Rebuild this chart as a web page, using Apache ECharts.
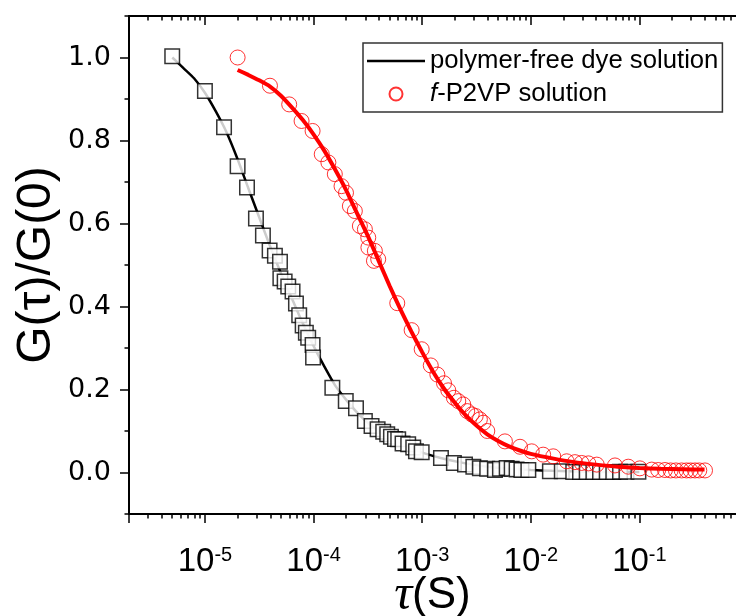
<!DOCTYPE html>
<html><head><meta charset="utf-8">
<script src="https://cdn.jsdelivr.net/npm/echarts@6/dist/echarts.min.js"></script>
<style>html,body{margin:0;padding:0;background:#fff}#c{width:736px;height:616px}</style>
</head><body><div id="c"></div>
<script>
// ---- data (tau in s, normalized correlation) ----
const dyeTau = [5.0e-6,1.0e-5,1.5e-5,2.0e-5,2.44e-5,2.95e-5,3.42e-5,3.94e-5,4.41e-5,4.91e-5,4.95e-5,5.42e-5,5.85e-5,6.41e-5,6.89e-5,7.38e-5,7.94e-5,8.5e-5,8.93e-5,9.8e-5,9.9e-5,1.49e-4,1.98e-4,2.46e-4,2.97e-4,3.42e-4,3.89e-4,4.38e-4,4.77e-4,5.16e-4,5.62e-4,6.02e-4,6.6e-4,7.44e-4,8.28e-4,8.77e-4,9.9e-4,1.49e-3,1.96e-3,2.48e-3,2.96e-3,3.4e-3,3.97e-3,4.68e-3,5.2e-3,6.0e-3,6.67e-3,7.4e-3,8.2e-3,9.5e-3,1.5e-2,1.93e-2,2.46e-2,2.84e-2,3.27e-2,3.77e-2,4.34e-2,5.0e-2,5.75e-2,6.63e-2,7.6e-2,9.8e-2];
const dyeG = [1.003,0.919,0.832,0.738,0.687,0.612,0.571,0.535,0.522,0.508,0.468,0.460,0.448,0.436,0.407,0.379,0.354,0.337,0.325,0.307,0.277,0.204,0.172,0.155,0.124,0.112,0.104,0.098,0.092,0.086,0.081,0.080,0.070,0.068,0.060,0.051,0.049,0.035,0.023,0.019,0.014,0.010,0.009,0.006,0.009,0.011,0.009,0.007,0.006,0.006,0.003,0.003,0.001,0.001,0.001,0.001,0.001,0.001,0.001,0.002,0.002,0.002];
const dyeFitTau = [5.01e-6,6.31e-6,7.94e-6,1.0e-5,1.26e-5,1.58e-5,2.0e-5,2.51e-5,3.16e-5,3.98e-5,5.01e-5,6.31e-5,7.94e-5,1.0e-4,1.26e-4,1.58e-4,2.0e-4,2.51e-4,3.16e-4,3.98e-4,5.01e-4,6.31e-4,7.94e-4,1.0e-3,1.58e-3,2.51e-3,3.98e-3,6.31e-3,1.0e-2,1.58e-2,3.16e-2,0.1];
const dyeFitG = [1.0,0.975,0.95,0.915,0.87,0.82,0.755,0.685,0.615,0.545,0.48,0.42,0.36,0.305,0.255,0.21,0.175,0.145,0.12,0.1,0.083,0.069,0.058,0.048,0.033,0.022,0.014,0.009,0.006,0.004,0.002,0.001];
const p2vpTau = [2.0e-5,3.97e-5,5.97e-5,7.76e-5,9.8e-5,1.19e-4,1.37e-4,1.57e-4,1.81e-4,1.99e-4,2.16e-4,2.4e-4,2.67e-4,2.97e-4,3.19e-4,3.2e-4,3.67e-4,3.6e-4,3.94e-4,5.9e-4,8.0e-4,9.9e-4,1.2e-3,1.38e-3,1.59e-3,1.74e-3,1.96e-3,2.15e-3,2.39e-3,2.6e-3,2.86e-3,3.11e-3,3.4e-3,3.66e-3,3.98e-3,5.78e-3,7.96e-3,1.02e-2,1.3e-2,1.61e-2,2.14e-2,2.55e-2,2.94e-2,3.39e-2,4.05e-2,5.96e-2,7.9e-2,0.101,0.130,0.149,0.172,0.194,0.217,0.245,0.272,0.296,0.325,0.356,0.402];
const p2vpG = [1.0,0.932,0.887,0.847,0.823,0.767,0.747,0.719,0.690,0.674,0.642,0.630,0.594,0.586,0.566,0.542,0.534,0.510,0.514,0.408,0.343,0.297,0.258,0.236,0.215,0.198,0.180,0.172,0.164,0.148,0.140,0.136,0.128,0.120,0.100,0.075,0.062,0.051,0.043,0.039,0.027,0.025,0.023,0.022,0.019,0.017,0.014,0.010,0.007,0.006,0.006,0.005,0.005,0.005,0.005,0.005,0.005,0.005,0.005];
const p2vpFitTau = [2.0e-5,2.51e-5,3.16e-5,3.98e-5,5.01e-5,6.31e-5,7.94e-5,1.0e-4,1.26e-4,1.58e-4,2.0e-4,2.51e-4,3.16e-4,3.98e-4,5.01e-4,6.31e-4,7.94e-4,1.0e-3,1.26e-3,1.58e-3,2.0e-3,2.51e-3,3.16e-3,3.98e-3,5.01e-3,6.31e-3,7.94e-3,1.0e-2,1.58e-2,2.51e-2,3.98e-2,6.31e-2,0.1,0.158,0.251,0.398];
const p2vpFitG = [0.970,0.958,0.945,0.93,0.908,0.88,0.85,0.815,0.775,0.73,0.68,0.625,0.57,0.51,0.45,0.393,0.34,0.29,0.243,0.203,0.168,0.138,0.113,0.092,0.076,0.063,0.053,0.045,0.034,0.025,0.019,0.014,0.011,0.009,0.008,0.007];

const legendNames = ['polymer-free dye solution', 'f-P2VP solution'];
const xMin = 2e-6, xMax = 1;
const xMajorExps = [-5, -4, -3, -2, -1];
const yTicks = [0, 0.2, 0.4, 0.6, 0.8, 1.0];
const yMinorTicks = [-0.1, 0.1, 0.3, 0.5, 0.7, 0.9, 1.1];

const zip = (a, b) => a.map((v, i) => [v, b[i]]);
const lmin = Math.log10(xMin), lmax = Math.log10(xMax);
const xMinorLog = [];
for (let k = -6; k <= -1; k++) for (let m = 2; m <= 9; m++) {
  const v = m * Math.pow(10, k);
  if (v > xMin * 1.0001 && v < xMax) xMinorLog.push(Math.log10(v));
}
const xMajorLog = xMajorExps.slice();

const chart = echarts.init(document.getElementById('c'), null, {renderer: 'canvas'});
const black = '#000';
const axisLineStyle = {color: black, width: 2};
const tickStyle = {color: black, width: 1.5};
const logOverlay = (extra) => Object.assign({
  type: 'value', gridIndex: 0, min: lmin, max: lmax,
  axisLine: {show: false, onZero: false}, axisLabel: {show: false}, splitLine: {show: false}
}, extra);

chart.setOption({
  animation: false,
  backgroundColor: '#fff',
  grid: {left: 129, top: 16, width: 619, height: 498, containLabel: false, outerBoundsMode: 'none'},
  legend: {
    orient: 'vertical', left: 363, top: 43,
    padding: [5, 4, 5, 4], itemGap: 7, itemWidth: 58, itemHeight: 13,
    borderColor: '#333', borderWidth: 1.5, backgroundColor: '#fff',
    data: [
      {name: legendNames[0], icon: 'path://M0,0H58V2.6H0Z'},
      {name: legendNames[1]}
    ],
    formatter: n => n.indexOf('f-') === 0 ? '{i|f}{n|' + n.slice(1) + '}' : '{n|' + n + '}',
    textStyle: {
      color: '#000', fontFamily: 'Liberation Sans', fontSize: 25.7,
      rich: {
        i: {fontStyle: 'italic', fontFamily: 'Liberation Sans', fontSize: 25.7, color: '#000'},
        n: {fontFamily: 'Liberation Sans', fontSize: 25.7, color: '#000'}
      }
    }
  },
  xAxis: [
    {
      type: 'log', logBase: 10, min: xMin, max: xMax, gridIndex: 0, position: 'bottom',
      axisLine: {onZero: false, lineStyle: axisLineStyle},
      axisTick: {length: 9, lineStyle: tickStyle},
      splitLine: {show: false},
      axisLabel: {
        margin: 31, color: '#000',
        formatter: v => {
          const l = Math.log10(v), e = Math.round(l);
          if (Math.abs(l - e) > 1e-6 || e >= 0) return '';
          return '{b|10}{s|' + e + '}';
        },
        rich: {
          b: {fontFamily: 'Liberation Sans', fontSize: 33, color: '#000', lineHeight: 33},
          s: {fontFamily: 'Liberation Sans', fontSize: 20, color: '#000', verticalAlign: 'top', lineHeight: 20}
        }
      },
      name: '{t|τ}{s|(S)}', nameLocation: 'middle', nameGap: 57, nameMoveOverlap: false,
      nameTextStyle: {
        padding: [0, 12, 0, 0],
        rich: {
          t: {fontFamily: 'Liberation Serif', fontStyle: 'italic', fontSize: 50, color: '#000'},
          s: {fontFamily: 'Liberation Sans', fontSize: 44, color: '#000'}
        }
      }
    },
    logOverlay({position: 'bottom', axisTick: {show: true, length: 4.5, lineStyle: tickStyle, customValues: xMinorLog}}),
    logOverlay({position: 'top', axisLine: {show: true, onZero: false, lineStyle: axisLineStyle},
      axisTick: {show: true, inside: true, length: 9, lineStyle: tickStyle, customValues: xMajorLog}}),
    logOverlay({position: 'top', axisTick: {show: true, inside: true, length: 4.5, lineStyle: tickStyle, customValues: xMinorLog}})
  ],
  yAxis: [
    {
      type: 'value', min: -0.1, max: 1.1, gridIndex: 0, position: 'left',
      axisLine: {onZero: false, lineStyle: axisLineStyle},
      axisTick: {length: 9, lineStyle: tickStyle, customValues: yTicks},
      splitLine: {show: false},
      axisLabel: {customValues: yTicks, formatter: v => v.toFixed(1), margin: 18,
        fontFamily: 'DejaVu Sans', fontSize: 27, color: '#000'},
      name: 'G(τ)/G(0)', nameLocation: 'middle', nameGap: 68, nameMoveOverlap: false,
      nameTextStyle: {fontFamily: 'Liberation Sans', fontSize: 48, color: '#000'}
    },
    {
      type: 'value', min: -0.1, max: 1.1, gridIndex: 0, position: 'left',
      axisLine: {show: false, onZero: false}, axisLabel: {show: false}, splitLine: {show: false},
      axisTick: {show: true, length: 4.5, lineStyle: tickStyle, customValues: yMinorTicks}
    }
  ],
  series: [
    {
      name: legendNames[0], type: 'line', xAxisIndex: 0, yAxisIndex: 0,
      data: zip(dyeFitTau, dyeFitG), symbol: 'none', smooth: 0.2,
      lineStyle: {color: '#000', width: 2.5}, itemStyle: {color: '#000'}, z: 2
    },
    {
      name: 'dye data', type: 'scatter', xAxisIndex: 0, yAxisIndex: 0,
      data: zip(dyeTau, dyeG), symbol: 'rect', symbolSize: 14.5,
      itemStyle: {color: '#fff', borderColor: '#000', borderWidth: 1.5}, z: 3
    },
    {
      name: legendNames[1], type: 'scatter', xAxisIndex: 0, yAxisIndex: 0,
      data: zip(p2vpTau, p2vpG), symbol: 'circle', symbolSize: 15,
      itemStyle: {color: 'rgba(255,255,255,0)', borderColor: '#ff0000', borderWidth: 1}, z: 4
    },
    {
      name: 'f-P2VP fit', type: 'line', xAxisIndex: 0, yAxisIndex: 0,
      data: zip(p2vpFitTau, p2vpFitG), symbol: 'none', smooth: 0.2,
      lineStyle: {color: '#ff0000', width: 4}, itemStyle: {color: '#ff0000'}, z: 5
    }
  ]
});
</script>
</body></html>
